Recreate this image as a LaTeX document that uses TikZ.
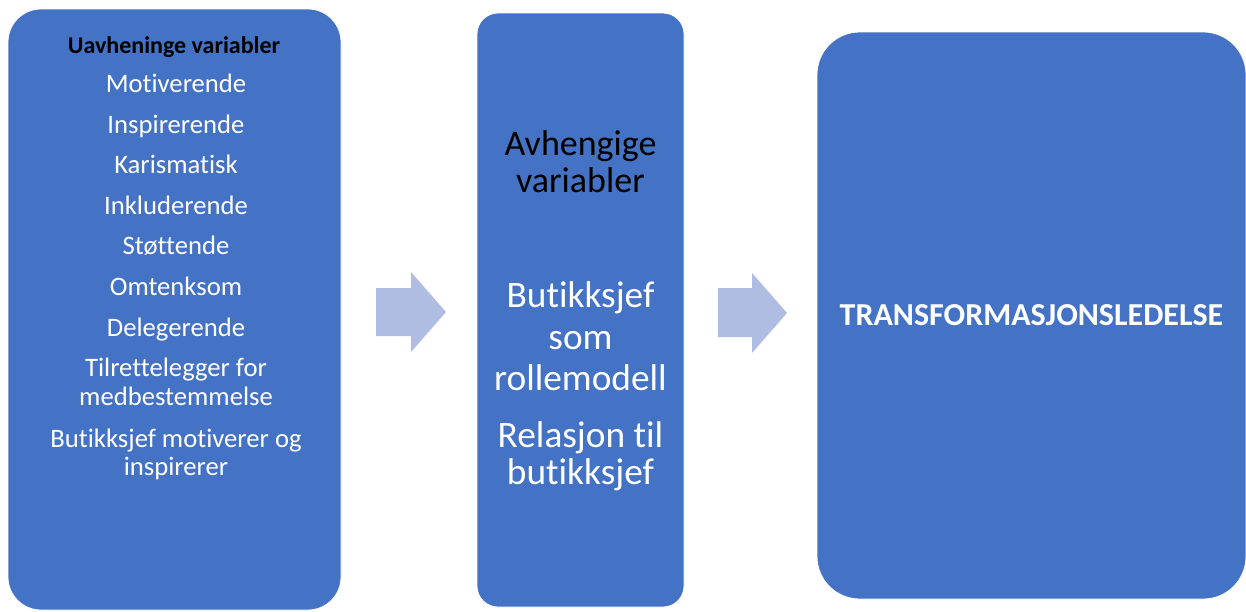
\documentclass[tikz,border=0pt]{standalone}
\usepackage{fontspec}
\setmainfont{Carlito}[RawFeature=-liga]
\definecolor{boxblue}{HTML}{4472C4}
\definecolor{arrowblue}{HTML}{B0BDE2}
\begin{document}
\begin{tikzpicture}[x=0.75pt,y=-0.75pt,
  panel/.style={fill=boxblue, draw=white, line width=0.6pt, inner sep=0pt},
  chevron/.style={fill=arrowblue},
  line/.style={anchor=base, inner sep=0pt, text=white},
  lefttitle/.style={line, text=black, font=\fontsize{18}{21}\selectfont\bfseries},
  leftitem/.style={line, font=\fontsize{20}{24}\selectfont},
  midhead/.style={line, text=black, font=\fontsize{27}{30}\selectfont},
  miditem/.style={line, font=\fontsize{28}{31}\selectfont},
  result/.style={line, font=\fontsize{24}{28}\selectfont\bfseries}]
\useasboundingbox (0,0) rectangle (1246,611);

% three panels
\node[panel, rounded corners=24.75pt, minimum width=249.75pt, minimum height=450.75pt]
  (indep) at (174.5,309.5) {};
\node[panel, rounded corners=15.75pt, minimum width=155.25pt, minimum height=445.5pt]
  (dep) at (580.5,310) {};
\node[panel, rounded corners=32pt, minimum width=321.75pt, minimum height=425.25pt]
  (trans) at (1031.5,315.5) {};

% block arrows between the panels
\fill[chevron] (376,288) -- (411,288) -- (411,272) -- (446,312) -- (411,352)
  -- (411,336) -- (376,336) -- cycle;
\fill[chevron] (718,288) -- (752,288) -- (752,273) -- (787,313) -- (752,353)
  -- (752,337) -- (718,337) -- cycle;

% independent variables
\node[lefttitle] (t0) at (174,53) {Uavheninge variabler};
\foreach \txt/\yy/\nm in {Motiverende/92/l1, Inspirerende/133/l2, Karismatisk/173/l3,
    Inkluderende/214/l4, Støttende/254/l5, Omtenksom/295/l6, Delegerende/336/l7,
    Tilrettelegger for/376/l8a, medbestemmelse/405/l8b,
    Butikksjef motiverer og/447/l9a, inspirerer/475/l9b}
  \node[leftitem] (\nm) at (176,\yy) {\txt};

% dependent variables
\node[midhead] (h1) at (580.5,155) {Avhengige};
\node[midhead] (h2) at (580.5,192) {variabler};
\node[miditem] (m1) at (580.5,307) {Butikksjef};
\node[miditem] (m2) at (580.5,349) {som};
\node[miditem] (m3) at (580.5,390) {rollemodell};
\node[miditem] (m4) at (580.5,447) {Relasjon til};
\node[miditem] (m5) at (580.5,484) {butikksjef};

% outcome
\node[result] (r1) at (1031.5,325) {TRANSFORMASJONSLEDELSE};
\end{tikzpicture}
\end{document}
